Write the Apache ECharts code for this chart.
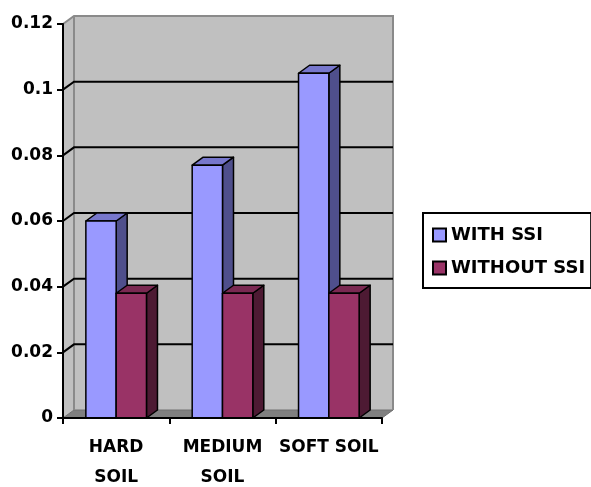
<!DOCTYPE html>
<html>
<head>
<meta charset="utf-8">
<script src="https://cdn.jsdelivr.net/npm/echarts@6/dist/echarts.min.js"></script>
<style>
  html, body { margin: 0; padding: 0; background: #fff; }
  #chart { width: 591px; height: 487px; }
</style>
</head>
<body>
<div id="chart"></div>
<script>
// Soil categories and the two response series
const categories = ['HARD\nSOIL', 'MEDIUM\nSOIL', 'SOFT SOIL'];
const withSSI = [0.06, 0.077, 0.105];
const withoutSSI = [0.038, 0.038, 0.038];
const yTicks = [0, 0.02, 0.04, 0.06, 0.08, 0.1, 0.12];

const FONT = 'DejaVu Sans';
const DX = 11, DY = -8;          // depth offset of the pseudo-3D box

const chart = echarts.init(document.getElementById('chart'), null, { renderer: 'canvas' });

// Side wall, back wall, floor and the back-wall gridlines
function renderWalls(params, api) {
  if (params.dataIndex !== 0) return;
  const cs = params.coordSys;
  const x0 = cs.x, x1 = cs.x + cs.width;
  const yBase = api.coord([0, yTicks[0]])[1];
  const yTop = api.coord([0, yTicks[yTicks.length - 1]])[1];
  const wallFill = '#C0C0C0', edge = '#8A8A8A';
  const kids = [
    { type: 'polygon', shape: { points: [[x0, yTop], [x0 + DX, yTop + DY], [x0 + DX, yBase + DY], [x0, yBase]] },
      style: { fill: wallFill } },
    { type: 'rect', shape: { x: x0 + DX, y: yTop + DY, width: x1 - x0, height: yBase - yTop } ,
      style: { fill: wallFill } },
    { type: 'polygon', shape: { points: [[x0, yBase], [x0 + DX, yBase + DY], [x1 + DX, yBase + DY], [x1, yBase]] },
      style: { fill: '#808080', stroke: '#707070', lineWidth: 1 } },
    { type: 'polyline', shape: { points: [[x0, yTop], [x0 + DX, yTop + DY], [x1 + DX, yTop + DY], [x1 + DX, yBase + DY]] },
      style: { fill: null, stroke: edge, lineWidth: 2 } },
    { type: 'line', shape: { x1: x0 + DX, y1: yTop + DY, x2: x0 + DX, y2: yBase + DY },
      style: { stroke: edge, lineWidth: 2 } }
  ];
  yTicks.slice(1, -1).forEach(function (v) {
    const y = api.coord([0, v])[1];
    kids.push({ type: 'polyline', shape: { points: [[x0, y], [x0 + DX, y + DY], [x1 + DX, y + DY]] },
      style: { fill: null, stroke: '#000', lineWidth: 2 } });
  });
  return { type: 'group', children: kids };
}

// One pseudo-3D column: front face, right side and top
function barRenderer(side, colors) {
  return function (params, api) {
    const idx = api.value(0);
    const base = api.coord([idx, 0]);
    const top = api.coord([idx, api.value(1)]);
    const band = api.size([1, 0])[0];
    const w = band * 0.285;
    const cx = base[0];
    const xl = side === 0 ? cx - w : cx;
    const xr = xl + w;
    const yb = base[1], yt = top[1];
    const stroke = { stroke: '#000', lineWidth: 1.5, lineJoin: 'round' };
    return {
      type: 'group',
      children: [
        { type: 'polygon', shape: { points: [[xr, yt], [xr + DX, yt + DY], [xr + DX, yb + DY], [xr, yb]] },
          style: Object.assign({ fill: colors.side }, stroke) },
        { type: 'polygon', shape: { points: [[xl, yt], [xl + DX, yt + DY], [xr + DX, yt + DY], [xr, yt]] },
          style: Object.assign({ fill: colors.top }, stroke) },
        { type: 'rect', shape: { x: xl, y: yt, width: w, height: yb - yt },
          style: Object.assign({ fill: colors.front }, stroke) }
      ]
    };
  };
}

const blue = { front: '#9999FF', side: '#4F4F8C', top: '#7777CC' };
const plum = { front: '#993366', side: '#4D1A33', top: '#7A2952' };

chart.setOption({
  animation: false,
  backgroundColor: '#ffffff',
  grid: { left: 63, right: 209, top: 24, bottom: 69, containLabel: false, outerBoundsMode: 'none' },
  xAxis: {
    type: 'category',
    data: categories,
    z: 5,
    axisLine: { show: true, lineStyle: { color: '#000', width: 2 } },
    axisTick: { show: true, length: 6, lineStyle: { color: '#000', width: 2 } },
    axisLabel: {
      color: '#000', fontFamily: FONT, fontWeight: 'bold', fontSize: 17,
      lineHeight: 30, margin: 15, interval: 0
    },
    splitLine: { show: false }
  },
  yAxis: {
    type: 'value',
    min: 0, max: 0.12, interval: 0.02,
    z: 5,
    axisLine: { show: true, lineStyle: { color: '#000', width: 2 } },
    axisTick: { show: true, length: 6, lineStyle: { color: '#000', width: 2 } },
    axisLabel: { color: '#000', fontFamily: FONT, fontWeight: 'bold', fontSize: 17, margin: 10 },
    splitLine: { show: false }
  },
  legend: {
    orient: 'vertical',
    left: 423, top: 213,
    padding: [12, 6, 10, 9],
    itemGap: 13,
    itemWidth: 13, itemHeight: 13,
    borderColor: '#000', borderWidth: 2,
    textStyle: { color: '#000', fontFamily: FONT, fontWeight: 'bold', fontSize: 18, lineHeight: 20 },
    data: [
      { name: 'WITH SSI', icon: 'rect', itemStyle: { color: blue.front, borderColor: '#000', borderWidth: 2 } },
      { name: 'WITHOUT SSI', icon: 'rect', itemStyle: { color: plum.front, borderColor: '#000', borderWidth: 2 } }
    ]
  },
  series: [
    { type: 'custom', name: 'walls', coordinateSystem: 'cartesian2d', z: 1, silent: true,
      renderItem: renderWalls, data: [[0, 0]] },
    { type: 'custom', name: 'WITH SSI', coordinateSystem: 'cartesian2d', z: 2,
      itemStyle: { color: blue.front },
      renderItem: barRenderer(0, blue), data: withSSI.map(function (v, i) { return [i, v]; }) },
    { type: 'custom', name: 'WITHOUT SSI', coordinateSystem: 'cartesian2d', z: 3,
      itemStyle: { color: plum.front },
      renderItem: barRenderer(1, plum), data: withoutSSI.map(function (v, i) { return [i, v]; }) }
  ]
});
</script>
</body>
</html>
